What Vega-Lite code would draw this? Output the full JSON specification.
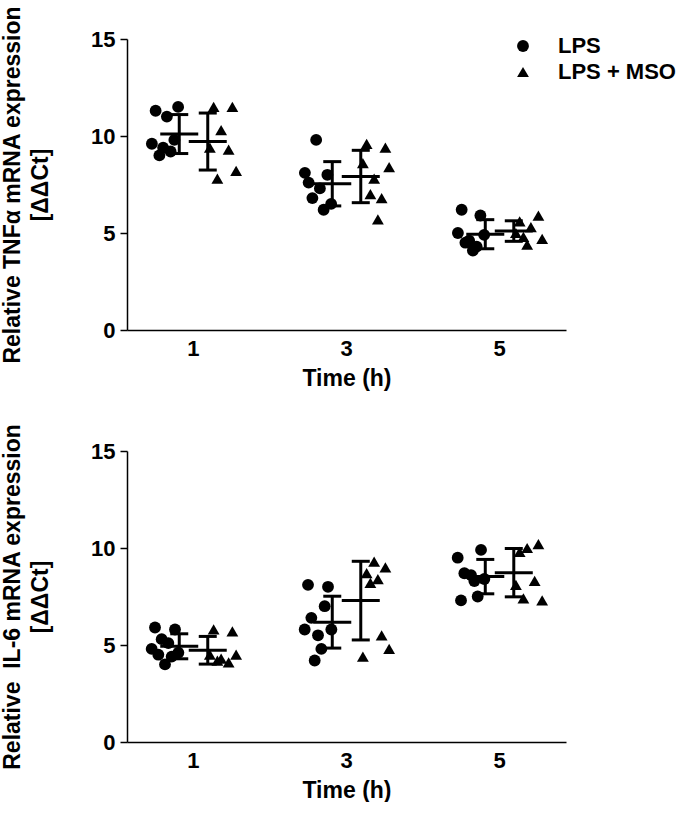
{
  "$schema": "https://vega.github.io/schema/vega-lite/v6.json",
  "padding": {"top": 5, "left": 1, "right": 0, "bottom": 0},
  "background": "white",
  "datasets": {
    "pts": [
      {"gene": "TNFa", "time": 1, "group": "LPS", "replicate": 8, "value": 11.5},
      {"gene": "TNFa", "time": 1, "group": "LPS", "replicate": 2, "value": 11.3},
      {"gene": "TNFa", "time": 1, "group": "LPS", "replicate": 5, "value": 11.0},
      {"gene": "TNFa", "time": 1, "group": "LPS", "replicate": 7, "value": 9.8},
      {"gene": "TNFa", "time": 1, "group": "LPS", "replicate": 1, "value": 9.6},
      {"gene": "TNFa", "time": 1, "group": "LPS", "replicate": 4, "value": 9.4},
      {"gene": "TNFa", "time": 1, "group": "LPS", "replicate": 6, "value": 9.2},
      {"gene": "TNFa", "time": 1, "group": "LPS", "replicate": 3, "value": 9.0},
      {"gene": "TNFa", "time": 1, "group": "LPS + MSO", "replicate": 2, "value": 11.5},
      {"gene": "TNFa", "time": 1, "group": "LPS + MSO", "replicate": 7, "value": 11.5},
      {"gene": "TNFa", "time": 1, "group": "LPS + MSO", "replicate": 4, "value": 10.3},
      {"gene": "TNFa", "time": 1, "group": "LPS + MSO", "replicate": 1, "value": 9.4},
      {"gene": "TNFa", "time": 1, "group": "LPS + MSO", "replicate": 6, "value": 9.3},
      {"gene": "TNFa", "time": 1, "group": "LPS + MSO", "replicate": 8, "value": 8.2},
      {"gene": "TNFa", "time": 1, "group": "LPS + MSO", "replicate": 3, "value": 7.8},
      {"gene": "TNFa", "time": 3, "group": "LPS", "replicate": 4, "value": 9.8},
      {"gene": "TNFa", "time": 3, "group": "LPS", "replicate": 1, "value": 8.1},
      {"gene": "TNFa", "time": 3, "group": "LPS", "replicate": 7, "value": 8.0},
      {"gene": "TNFa", "time": 3, "group": "LPS", "replicate": 2, "value": 7.6},
      {"gene": "TNFa", "time": 3, "group": "LPS", "replicate": 5, "value": 7.3},
      {"gene": "TNFa", "time": 3, "group": "LPS", "replicate": 3, "value": 6.8},
      {"gene": "TNFa", "time": 3, "group": "LPS", "replicate": 8, "value": 6.5},
      {"gene": "TNFa", "time": 3, "group": "LPS", "replicate": 6, "value": 6.2},
      {"gene": "TNFa", "time": 3, "group": "LPS + MSO", "replicate": 2, "value": 9.6},
      {"gene": "TNFa", "time": 3, "group": "LPS + MSO", "replicate": 7, "value": 9.4},
      {"gene": "TNFa", "time": 3, "group": "LPS + MSO", "replicate": 1, "value": 8.6},
      {"gene": "TNFa", "time": 3, "group": "LPS + MSO", "replicate": 8, "value": 8.4},
      {"gene": "TNFa", "time": 3, "group": "LPS + MSO", "replicate": 4, "value": 7.8},
      {"gene": "TNFa", "time": 3, "group": "LPS + MSO", "replicate": 3, "value": 7.0},
      {"gene": "TNFa", "time": 3, "group": "LPS + MSO", "replicate": 6, "value": 6.8},
      {"gene": "TNFa", "time": 3, "group": "LPS + MSO", "replicate": 5, "value": 5.7},
      {"gene": "TNFa", "time": 5, "group": "LPS", "replicate": 2, "value": 6.2},
      {"gene": "TNFa", "time": 5, "group": "LPS", "replicate": 7, "value": 5.9},
      {"gene": "TNFa", "time": 5, "group": "LPS", "replicate": 1, "value": 5.0},
      {"gene": "TNFa", "time": 5, "group": "LPS", "replicate": 8, "value": 4.9},
      {"gene": "TNFa", "time": 5, "group": "LPS", "replicate": 4, "value": 4.6},
      {"gene": "TNFa", "time": 5, "group": "LPS", "replicate": 3, "value": 4.5},
      {"gene": "TNFa", "time": 5, "group": "LPS", "replicate": 6, "value": 4.3},
      {"gene": "TNFa", "time": 5, "group": "LPS", "replicate": 5, "value": 4.1},
      {"gene": "TNFa", "time": 5, "group": "LPS + MSO", "replicate": 7, "value": 5.9},
      {"gene": "TNFa", "time": 5, "group": "LPS + MSO", "replicate": 2, "value": 5.6},
      {"gene": "TNFa", "time": 5, "group": "LPS + MSO", "replicate": 5, "value": 5.3},
      {"gene": "TNFa", "time": 5, "group": "LPS + MSO", "replicate": 1, "value": 5.0},
      {"gene": "TNFa", "time": 5, "group": "LPS + MSO", "replicate": 3, "value": 4.8},
      {"gene": "TNFa", "time": 5, "group": "LPS + MSO", "replicate": 8, "value": 4.7},
      {"gene": "TNFa", "time": 5, "group": "LPS + MSO", "replicate": 4, "value": 4.4},
      {"gene": "IL6", "time": 1, "group": "LPS", "replicate": 2, "value": 5.9},
      {"gene": "IL6", "time": 1, "group": "LPS", "replicate": 8, "value": 5.8},
      {"gene": "IL6", "time": 1, "group": "LPS", "replicate": 4, "value": 5.3},
      {"gene": "IL6", "time": 1, "group": "LPS", "replicate": 6, "value": 5.1},
      {"gene": "IL6", "time": 1, "group": "LPS", "replicate": 1, "value": 4.8},
      {"gene": "IL6", "time": 1, "group": "LPS", "replicate": 9, "value": 4.6},
      {"gene": "IL6", "time": 1, "group": "LPS", "replicate": 3, "value": 4.5},
      {"gene": "IL6", "time": 1, "group": "LPS", "replicate": 7, "value": 4.4},
      {"gene": "IL6", "time": 1, "group": "LPS", "replicate": 5, "value": 4.0},
      {"gene": "IL6", "time": 1, "group": "LPS + MSO", "replicate": 2, "value": 5.8},
      {"gene": "IL6", "time": 1, "group": "LPS + MSO", "replicate": 7, "value": 5.7},
      {"gene": "IL6", "time": 1, "group": "LPS + MSO", "replicate": 1, "value": 4.5},
      {"gene": "IL6", "time": 1, "group": "LPS + MSO", "replicate": 8, "value": 4.5},
      {"gene": "IL6", "time": 1, "group": "LPS + MSO", "replicate": 4, "value": 4.3},
      {"gene": "IL6", "time": 1, "group": "LPS + MSO", "replicate": 3, "value": 4.2},
      {"gene": "IL6", "time": 1, "group": "LPS + MSO", "replicate": 6, "value": 4.1},
      {"gene": "IL6", "time": 3, "group": "LPS", "replicate": 2, "value": 8.1},
      {"gene": "IL6", "time": 3, "group": "LPS", "replicate": 8, "value": 8.0},
      {"gene": "IL6", "time": 3, "group": "LPS", "replicate": 7, "value": 7.0},
      {"gene": "IL6", "time": 3, "group": "LPS", "replicate": 3, "value": 6.4},
      {"gene": "IL6", "time": 3, "group": "LPS", "replicate": 1, "value": 5.8},
      {"gene": "IL6", "time": 3, "group": "LPS", "replicate": 9, "value": 5.8},
      {"gene": "IL6", "time": 3, "group": "LPS", "replicate": 5, "value": 5.5},
      {"gene": "IL6", "time": 3, "group": "LPS", "replicate": 6, "value": 4.8},
      {"gene": "IL6", "time": 3, "group": "LPS", "replicate": 4, "value": 4.2},
      {"gene": "IL6", "time": 3, "group": "LPS + MSO", "replicate": 4, "value": 9.3},
      {"gene": "IL6", "time": 3, "group": "LPS + MSO", "replicate": 7, "value": 9.0},
      {"gene": "IL6", "time": 3, "group": "LPS + MSO", "replicate": 2, "value": 8.7},
      {"gene": "IL6", "time": 3, "group": "LPS + MSO", "replicate": 5, "value": 8.4},
      {"gene": "IL6", "time": 3, "group": "LPS + MSO", "replicate": 3, "value": 8.2},
      {"gene": "IL6", "time": 3, "group": "LPS + MSO", "replicate": 6, "value": 5.5},
      {"gene": "IL6", "time": 3, "group": "LPS + MSO", "replicate": 8, "value": 4.8},
      {"gene": "IL6", "time": 3, "group": "LPS + MSO", "replicate": 1, "value": 4.4},
      {"gene": "IL6", "time": 5, "group": "LPS", "replicate": 8, "value": 9.9},
      {"gene": "IL6", "time": 5, "group": "LPS", "replicate": 1, "value": 9.5},
      {"gene": "IL6", "time": 5, "group": "LPS", "replicate": 3, "value": 8.7},
      {"gene": "IL6", "time": 5, "group": "LPS", "replicate": 5, "value": 8.6},
      {"gene": "IL6", "time": 5, "group": "LPS", "replicate": 9, "value": 8.4},
      {"gene": "IL6", "time": 5, "group": "LPS", "replicate": 6, "value": 8.3},
      {"gene": "IL6", "time": 5, "group": "LPS", "replicate": 7, "value": 7.5},
      {"gene": "IL6", "time": 5, "group": "LPS", "replicate": 2, "value": 7.3},
      {"gene": "IL6", "time": 5, "group": "LPS + MSO", "replicate": 7, "value": 10.2},
      {"gene": "IL6", "time": 5, "group": "LPS + MSO", "replicate": 4, "value": 10.0},
      {"gene": "IL6", "time": 5, "group": "LPS + MSO", "replicate": 2, "value": 9.8},
      {"gene": "IL6", "time": 5, "group": "LPS + MSO", "replicate": 6, "value": 8.3},
      {"gene": "IL6", "time": 5, "group": "LPS + MSO", "replicate": 1, "value": 8.1},
      {"gene": "IL6", "time": 5, "group": "LPS + MSO", "replicate": 3, "value": 7.4},
      {"gene": "IL6", "time": 5, "group": "LPS + MSO", "replicate": 8, "value": 7.3}
    ]
  },
  "data": {"name": "pts"},
  "spacing": 33,
  "resolve": {"legend": {"shape": "independent"}},
  "vconcat": [
    {
      "width": 439,
      "height": 291,
      "transform": [{"filter": "datum.gene === 'TNFa'"}],
      "resolve": {"scale": {"xOffset": "independent"}},
      "layer": [
        {
          "transform": [{"filter": "datum.group === 'LPS'"}],
          "mark": {"type": "point", "filled": true, "color": "black", "opacity": 1, "size": 140},
          "encoding": {
            "x": {"field": "time", "type": "ordinal", "title": "Time (h)", "scale": {"paddingInner": 0.131, "paddingOuter": 0}, "axis": {"labelAngle": 0, "ticks": false, "labelFontSize": 22, "labelPadding": 8, "titleFontSize": 23, "titlePadding": 8}},
            "xOffset": {"field": "replicate", "type": "nominal", "scale": {"type": "point", "range": [23, 53]}},
            "y": {"field": "value", "type": "quantitative", "title": ["Relative TNFα mRNA expression", "[ΔΔCt]"], "scale": {"domain": [0, 15], "nice": false}, "axis": {"values": [0, 5, 10, 15], "tickSize": 7, "labelFontSize": 22, "labelPadding": 5, "titleFontSize": 23, "titleLineHeight": 28, "titlePadding": 38}},
            "shape": {"field": "group", "type": "nominal", "scale": {"domain": ["LPS", "LPS + MSO"], "range": ["circle", "triangle-up"]}, "legend": {"orient": "none", "legendX": 385, "legendY": -4, "title": null, "labelFontSize": 22, "labelFontWeight": "bold", "labelColor": "black", "symbolSize": 140, "symbolFillColor": "black", "symbolStrokeColor": "black", "symbolStrokeWidth": 0, "rowPadding": 4, "labelOffset": 24}}
          }
        },
        {
          "transform": [{"filter": "datum.group === 'LPS + MSO'"}],
          "mark": {"type": "point", "filled": true, "color": "black", "opacity": 1, "size": 140},
          "encoding": {
            "x": {"field": "time", "type": "ordinal", "title": "Time (h)"},
            "xOffset": {"field": "replicate", "type": "nominal", "scale": {"type": "point", "range": [81, 111]}},
            "y": {"field": "value", "type": "quantitative", "title": ["Relative TNFα mRNA expression", "[ΔΔCt]"]},
            "shape": {"field": "group", "type": "nominal"}
          }
        },
        {
          "mark": {"type": "errorbar", "extent": "stdev", "color": "black", "ticks": {"size": 18, "thickness": 3, "color": "black", "opacity": 1}, "rule": {"strokeWidth": 3, "color": "black", "opacity": 1}},
          "encoding": {
            "x": {"field": "time", "type": "ordinal", "title": "Time (h)"},
            "xOffset": {"field": "group", "type": "nominal", "scale": {"type": "point", "range": [38, 95]}},
            "y": {"field": "value", "type": "quantitative", "title": ["Relative TNFα mRNA expression", "[ΔΔCt]"]}
          }
        },
        {
          "mark": {"type": "tick", "color": "black", "thickness": 3, "size": 38, "opacity": 1},
          "encoding": {
            "x": {"field": "time", "type": "ordinal", "title": "Time (h)"},
            "xOffset": {"field": "group", "type": "nominal", "scale": {"type": "point", "range": [38, 95]}},
            "y": {"field": "value", "type": "quantitative", "aggregate": "mean", "title": ["Relative TNFα mRNA expression", "[ΔΔCt]"]}
          }
        }
      ]
    },
    {
      "width": 439,
      "height": 291,
      "transform": [{"filter": "datum.gene === 'IL6'"}],
      "resolve": {"scale": {"xOffset": "independent"}},
      "layer": [
        {
          "transform": [{"filter": "datum.group === 'LPS'"}],
          "mark": {"type": "point", "filled": true, "color": "black", "opacity": 1, "size": 140},
          "encoding": {
            "x": {"field": "time", "type": "ordinal", "title": "Time (h)", "scale": {"paddingInner": 0.131, "paddingOuter": 0}, "axis": {"labelAngle": 0, "ticks": false, "labelFontSize": 22, "labelPadding": 8, "titleFontSize": 23, "titlePadding": 8}},
            "xOffset": {"field": "replicate", "type": "nominal", "scale": {"type": "point", "range": [23, 53]}},
            "y": {"field": "value", "type": "quantitative", "title": ["Relative\u00a0 IL-6 mRNA expression", "[ΔΔCt]"], "scale": {"domain": [0, 15], "nice": false}, "axis": {"values": [0, 5, 10, 15], "tickSize": 7, "labelFontSize": 22, "labelPadding": 5, "titleFontSize": 23, "titleLineHeight": 28, "titlePadding": 38}},
            "shape": {"field": "group", "type": "nominal", "scale": {"domain": ["LPS", "LPS + MSO"], "range": ["circle", "triangle-up"]}, "legend": null}
          }
        },
        {
          "transform": [{"filter": "datum.group === 'LPS + MSO'"}],
          "mark": {"type": "point", "filled": true, "color": "black", "opacity": 1, "size": 140},
          "encoding": {
            "x": {"field": "time", "type": "ordinal", "title": "Time (h)"},
            "xOffset": {"field": "replicate", "type": "nominal", "scale": {"type": "point", "range": [81, 111]}},
            "y": {"field": "value", "type": "quantitative", "title": ["Relative\u00a0 IL-6 mRNA expression", "[ΔΔCt]"]},
            "shape": {"field": "group", "type": "nominal", "legend": null}
          }
        },
        {
          "mark": {"type": "errorbar", "extent": "stdev", "color": "black", "ticks": {"size": 18, "thickness": 3, "color": "black", "opacity": 1}, "rule": {"strokeWidth": 3, "color": "black", "opacity": 1}},
          "encoding": {
            "x": {"field": "time", "type": "ordinal", "title": "Time (h)"},
            "xOffset": {"field": "group", "type": "nominal", "scale": {"type": "point", "range": [38, 95]}},
            "y": {"field": "value", "type": "quantitative", "title": ["Relative\u00a0 IL-6 mRNA expression", "[ΔΔCt]"]}
          }
        },
        {
          "mark": {"type": "tick", "color": "black", "thickness": 3, "size": 38, "opacity": 1},
          "encoding": {
            "x": {"field": "time", "type": "ordinal", "title": "Time (h)"},
            "xOffset": {"field": "group", "type": "nominal", "scale": {"type": "point", "range": [38, 95]}},
            "y": {"field": "value", "type": "quantitative", "aggregate": "mean", "title": ["Relative\u00a0 IL-6 mRNA expression", "[ΔΔCt]"]}
          }
        }
      ]
    }
  ],
  "config": {
    "font": "Liberation Sans",
    "view": {"stroke": null},
    "axis": {
      "grid": false,
      "labelFont": "Liberation Sans",
      "labelFontWeight": "bold",
      "labelColor": "black",
      "titleFont": "Liberation Sans",
      "titleFontWeight": "bold",
      "titleColor": "black",
      "domainColor": "black",
      "domainWidth": 1.5,
      "tickColor": "black",
      "tickWidth": 1.5
    },
    "legend": {"labelFont": "Liberation Sans"}
  }
}
